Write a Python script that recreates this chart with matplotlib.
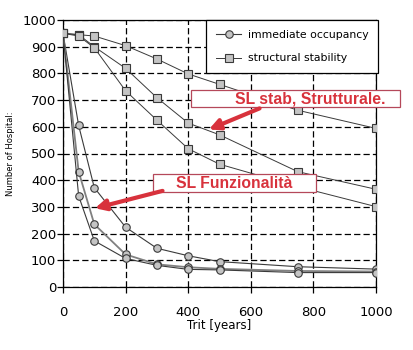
import matplotlib
matplotlib.use("Agg")
import matplotlib.pyplot as plt
from matplotlib.patches import Rectangle

# ---- data --------------------------------------------------------------------
trit = [0, 50, 100, 200, 300, 400, 500, 750, 1000]

io_a = [950, 605, 372, 224, 145, 117, 95, 76, 67]
io_b = [950, 432, 235, 122, 85, 74, 68, 60, 58]
io_c = [950, 341, 173, 107, 81, 66, 64, 54, 54]

ss_a = [950, 945, 940, 904, 854, 798, 759, 662, 594]
ss_b = [950, 945, 900, 819, 709, 614, 570, 432, 366]
ss_c = [950, 940, 896, 735, 625, 518, 460, 376, 301]

RED = "#d8323c"
EDGE = "#b5485a"
LINE = "#3a3a3a"
FACE = "#c4c4c4"

plt.rcParams["font.family"] = ["DejaVu Sans"]

fig = plt.figure(figsize=(4.13, 3.5), dpi=100)
ax = fig.add_axes([63 / 413, 63 / 350, 313 / 413, 267 / 350])

mk = dict(markersize=5.4, markerfacecolor=FACE, markeredgecolor=LINE, markeredgewidth=0.8)
for i, ys in enumerate([io_a, io_b, io_c]):
    ax.plot(trit, ys, color=LINE if i != 1 else "#808080", lw=0.8 if i != 1 else 1.3,
            marker="o", label="immediate occupancy" if i == 0 else None, zorder=3, **mk)
for i, ys in enumerate([ss_a, ss_b, ss_c]):
    ax.plot(trit, ys, color=LINE, lw=0.7, marker="s",
            label="structural stability" if i == 0 else None, zorder=3, **mk)

ax.set_xlim(0, 1000)
ax.set_ylim(0, 1000)
ax.set_xticks(range(0, 1001, 200))
ax.set_yticks(range(0, 1001, 100))
ax.grid(True, color="black", lw=0.9, ls=(0, (5, 2.5)))
ax.tick_params(labelsize=9.5, length=4, width=0.9, color="black")
ax.tick_params(axis="x", pad=10)
ax.tick_params(axis="y", pad=1)
for s in ax.spines.values():
    s.set_linewidth(0.9)
ax.set_xlabel("Trit [years]", fontsize=8.5, labelpad=0)
ax.set_ylabel("Number of Hospital:", fontsize=6.0, labelpad=5)

leg = ax.legend(loc="upper right", fontsize=7.8, frameon=True, fancybox=False,
                framealpha=1, edgecolor="black", borderaxespad=0, handlelength=2.3,
                handletextpad=0.6, labelspacing=1.25, borderpad=0.9,
                bbox_to_anchor=(1.006, 1.0))
leg.get_frame().set_linewidth(0.9)
leg.set_zorder(5)

# ---- red callouts ------------------------------------------------------------
def callout(box, text_x, text, tip, tail):
    (x0, y0), (x1, y1) = box
    ax.add_patch(Rectangle((x0, y0), x1 - x0, y1 - y0, facecolor="white",
                           edgecolor=EDGE, lw=0.9, clip_on=False, zorder=6))
    ax.text(text_x, (y0 + y1) / 2, text, ha="left", va="center", color=RED,
            fontsize=11.3, fontweight="bold", family="Liberation Sans", zorder=7,
            clip_on=False)
    ax.annotate("", xy=tip, xytext=tail, zorder=7,
                arrowprops=dict(arrowstyle="-|>", color=RED, lw=3,
                                mutation_scale=16, shrinkA=0, shrinkB=0))

callout(((409, 673), (1078, 738)), 549, "SL stab, Strutturale.", (466, 590), (628, 669))
callout(((286, 357), (809, 422)), 362, "SL Funzionalità", (102, 295), (318, 360))

fig.savefig("out.png", dpi=100, facecolor="white")
